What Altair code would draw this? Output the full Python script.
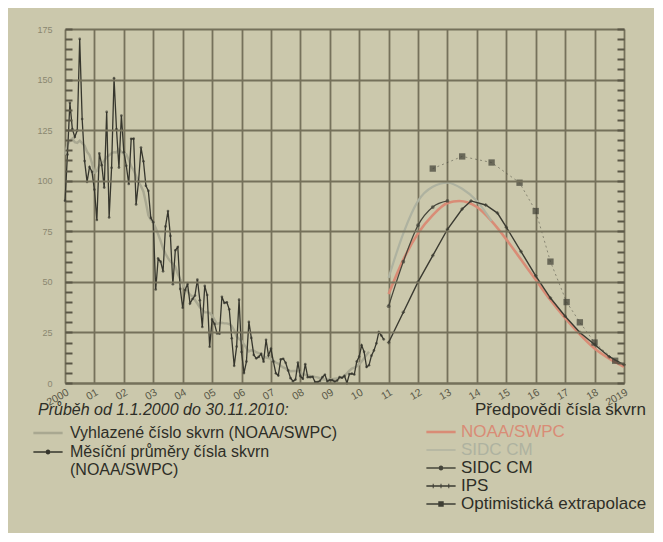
import altair as alt
import pandas as pd

# ---------------- data ----------------
monthly = [
    90.1, 112.9, 138.5, 125.5, 121.6, 124.9, 170.1, 130.5, 109.7, 99.4, 106.8, 104.4,
    95.6, 80.6, 113.5, 107.7, 96.6, 134.0, 81.8, 106.4, 150.7, 125.5, 106.5, 132.2,
    114.1, 107.4, 98.4, 120.7, 120.8, 88.3, 99.6, 116.4, 109.6, 97.5, 95.0, 81.6,
    79.5, 46.2, 61.5, 60.0, 55.2, 77.4, 85.0, 72.7, 48.8, 65.6, 67.2, 46.5,
    37.2, 46.0, 48.9, 39.3, 41.5, 43.2, 51.1, 40.9, 27.7, 48.0, 43.5, 17.9,
    31.3, 29.2, 24.5, 24.4, 42.6, 39.6, 39.9, 36.4, 22.1, 8.5, 18.0, 41.2,
    15.3, 4.9, 10.6, 30.2, 22.3, 13.9, 12.2, 12.9, 14.4, 10.5, 21.4, 13.6,
    16.9, 10.6, 4.8, 3.7, 11.7, 12.0, 10.0, 6.2, 2.4, 0.9, 1.7, 10.1,
    3.4, 2.1, 9.3, 2.9, 2.9, 3.1, 0.5, 0.5, 1.1, 2.9, 4.1, 0.8,
    1.5, 1.4, 0.7, 1.2, 2.9, 2.6, 3.5, 0.0, 4.4, 4.6, 4.2, 10.6,
    13.1, 18.6, 15.4, 7.9, 8.8, 13.5, 16.1, 19.6, 25.2, 23.5, 21.6,
]
smoothed = [
    112.9, 117.9, 119.8, 120.8, 119.0, 118.7, 119.8, 118.6, 117.3, 114.3, 112.7, 108.7,
    104.0, 104.8, 107.5, 108.6, 109.8, 111.7, 112.6, 113.6, 114.1, 114.0, 115.6, 114.2,
    113.3, 113.1, 110.4, 107.1, 105.1, 102.4, 99.2, 97.3, 94.6, 89.1, 82.9, 80.8,
    79.2, 76.6, 73.5, 70.2, 66.6, 63.9, 61.7, 60.1, 58.9, 57.4, 53.9, 51.3,
    49.1, 46.8, 45.1, 43.6, 42.7, 41.0, 39.3, 37.4, 36.4, 34.9, 34.9, 34.7,
    33.4, 31.2, 29.2, 29.6, 29.8, 29.5, 29.5, 29.1, 28.1, 26.1, 23.0, 21.8,
    20.9, 19.1, 17.3, 15.6, 16.2, 16.0, 15.2, 14.8, 14.1, 13.2, 12.6, 12.3,
    11.9, 11.0, 10.1, 9.6, 8.6, 7.7, 7.2, 6.5, 5.8, 5.9, 6.0, 5.9,
    5.1, 4.4, 4.1, 3.9, 3.5, 3.3, 3.0, 2.8, 2.4, 1.8, 1.7, 1.7,
    1.8, 1.9, 2.1, 2.2, 2.3, 2.7, 3.6, 4.8, 6.1, 7.1, 7.6, 8.3,
    9.3, 10.6, 12.3, 14.0, 15.5,
]

noaa_x = [2011.0, 2011.5, 2012.0, 2012.5, 2013.0, 2013.4, 2014.0, 2014.5, 2015.0, 2015.5,
          2016.0, 2016.5, 2017.0, 2017.5, 2018.0, 2018.5, 2019.0]
noaa_y = [44, 61, 74, 83, 89, 90, 87, 80, 71, 61, 51, 41, 32, 24, 17, 12, 8]

sidc_l_x = [2011.0, 2011.5, 2012.0, 2012.5, 2013.0, 2013.5, 2014.0, 2014.5]
sidc_l_y = [52, 74, 90, 97, 99, 96, 90, 80]

sidc_d_x = [2011.0, 2011.5, 2012.0, 2012.5, 2013.0]
sidc_d_y = [38, 60, 78, 87, 90]

ips_x = [2011.0, 2011.5, 2012.0, 2012.5, 2013.0, 2013.5, 2013.8, 2014.3, 2014.7, 2015.0,
         2015.5, 2016.0, 2016.5, 2017.0, 2017.5, 2018.0, 2018.5, 2019.0]
ips_y = [20, 35, 50, 63, 76, 86, 90, 88, 84, 77, 65, 53, 42, 33, 25, 19, 13, 9]

opt_x = [2012.5, 2013.5, 2014.5, 2015.45, 2016.0, 2016.5, 2017.05, 2017.5, 2018.0, 2018.7]
opt_y = [106, 112, 109, 99, 85, 60, 40, 30, 20, 11]

x_labels = ["2000", "01", "02", "03", "04", "05", "06", "07", "08", "09", "10",
            "11", "12", "13", "14", "15", "16", "17", "18", "2019"]
y_ticks = [0, 25, 50, 75, 100, 125, 150, 175]
y_minor = list(range(0, 176, 5))

hist_names = ["Vyhlazené číslo skvrn (NOAA/SWPC)", "Měsíční průměry čísla skvrn|(NOAA/SWPC)"]
pred_names = ["NOAA/SWPC", "SIDC CM", "SIDC CM ", "IPS", "Optimistická extrapolace"]

# ---------------- styling ----------------
BG = "#cbc8ac"
GRID = "#75715b"
DARK = "#2e2e27"
C_SMOOTH = "#a9a891"
C_MONTH = "#36362d"
C_NOAA = "#d98c76"
C_SIDC_L = "#aeb2a0"
C_SIDC_D = "#45453a"
C_IPS = "#3a3a31"
C_OPT = "#3e3e34"
FONT = "Liberation Sans"

rows = []
for i, v in enumerate(monthly):
    rows.append({"x": 2000 + i / 12, "y": v, "s": "month"})
for i, v in enumerate(smoothed):
    rows.append({"x": 2000 + i / 12, "y": v, "s": "smooth"})
for xx, yy in zip(noaa_x, noaa_y):
    rows.append({"x": xx, "y": yy, "s": "noaa"})
for xx, yy in zip(sidc_l_x, sidc_l_y):
    rows.append({"x": xx, "y": yy, "s": "sidc_l"})
for xx, yy in zip(sidc_d_x, sidc_d_y):
    rows.append({"x": xx, "y": yy, "s": "sidc_d"})
for xx, yy in zip(ips_x, ips_y):
    rows.append({"x": xx, "y": yy, "s": "ips"})
for xx, yy in zip(opt_x, opt_y):
    rows.append({"x": xx, "y": yy, "s": "opt"})
df = pd.DataFrame(rows)

xscale = alt.Scale(domain=[2000, 2019], nice=False, zero=False)
yscale = alt.Scale(domain=[0, 175], nice=False)

label_arr = "[" + ",".join("'" + l + "'" for l in x_labels) + "]"
major_test = "indexof(" + str(y_ticks) + ", datum.value) >= 0"
x_axis = alt.Axis(values=list(range(2000, 2020)), labelExpr=label_arr + "[round(datum.value) - 2000]",
                  grid=True, gridColor=GRID, gridWidth=1.8, title=None, labelAngle=-30,
                  labelAlign="right", labelBaseline="top", labelFontSize=10.5, labelColor="#5a5848",
                  labelFont=FONT, labelPadding=4, ticks=False, domainColor=GRID, domainWidth=1.8)
y_axis = alt.Axis(values=y_minor,
                  labelExpr="indexof(" + str(y_ticks) + ", datum.value) >= 0 ? datum.label : ''",
                  grid=True, gridWidth=1.8,
                  gridColor={"condition": {"test": major_test, "value": GRID}, "value": "transparent"},
                  title=None, labelFontSize=9, labelColor="#8a8770", labelFont=FONT, labelPadding=13,
                  ticks=True, tickSize=7, tickColor="#5a5746", tickWidth=2, offset=-7, domain=False,
                  zindex=2)
y_axis_right = alt.Axis(orient="right", values=y_minor, labels=False, grid=False, domain=False,
                        ticks=True, tickSize=7, offset=-7, tickColor="#5a5746", tickWidth=2, title=None,
                        zindex=2)

base = alt.Chart(df)


def series(key):
    return base.transform_filter(alt.datum.s == key)


X = alt.X("x:Q", scale=xscale, axis=x_axis)
Y = alt.Y("y:Q", scale=yscale, axis=None)

smooth = series("smooth").mark_line(color=C_SMOOTH, strokeWidth=2.4).encode(
    x=X, y=alt.Y("y:Q", scale=yscale, axis=y_axis))
month = series("month").mark_line(color=C_MONTH, strokeWidth=1.3).encode(x=X, y=Y)
month_pts = series("month").mark_point(color=C_MONTH, filled=True, size=7).encode(x=X, y=Y)
noaa = series("noaa").mark_line(color=C_NOAA, strokeWidth=2.6, interpolate="monotone").encode(x=X, y=Y)
sidc_l = series("sidc_l").mark_line(color=C_SIDC_L, strokeWidth=2.2, interpolate="monotone").encode(x=X, y=Y)
sidc_d = series("sidc_d").mark_line(color=C_SIDC_D, strokeWidth=1.3, interpolate="monotone").encode(x=X, y=Y)
sidc_d_pts = series("sidc_d").mark_point(color=C_SIDC_D, filled=True, size=14).encode(x=X, y=Y)
ips = series("ips").mark_line(color=C_IPS, strokeWidth=1.4).encode(x=X, y=Y)
ips_pts = series("ips").mark_point(color=C_IPS, shape="cross", filled=True, size=12).encode(x=X, y=Y)
opt = series("opt").mark_line(color=C_OPT, strokeWidth=0.8, strokeDash=[2, 3], opacity=0.6).encode(x=X, y=Y)
opt_pts = series("opt").mark_point(color=C_OPT, shape="square", filled=True, size=40).encode(x=X, y=Y)

# legend symbol paths
THICK = "M-1.5,-0.13H1.5V0.13H-1.5Z"
THIN = "M-1.5,-0.07H1.5V0.07H-1.5Z"
DOT = ("M-1.5,-0.07H-0.25V0.07H-1.5Z M0.25,-0.07H1.5V0.07H0.25Z "
       "M0.25,0A0.25,0.25,0,1,1,-0.25,0A0.25,0.25,0,1,1,0.25,0Z")
SQUARE = ("M-1.5,-0.07H-0.28V0.07H-1.5Z M0.28,-0.07H1.5V0.07H0.28Z "
          "M-0.28,-0.28H0.28V0.28H-0.28Z")
PLUS = ("M-1.5,-0.07H1.5V0.07H-1.5Z M-0.85,-0.22H-0.75V0.22H-0.85Z "
        "M-0.05,-0.22H0.05V0.22H-0.05Z M0.75,-0.22H0.85V0.22H0.75Z")

hist_df = pd.DataFrame({"name": hist_names, "x": [2000.0] * 2, "y": [0.0] * 2})
pred_df = pd.DataFrame({"name": pred_names, "x": [2000.0] * 5, "y": [0.0] * 5})

leg_common = dict(orient="none", padding=0, symbolSize=380, symbolStrokeWidth=0, symbolOpacity=1,
                  labelFont=FONT, titleFont=FONT,
                  titleFontWeight="normal", titleColor=DARK, titleLimit=400, labelLimit=400)

hist_legend = alt.Legend(title="Průběh od 1.1.2000 do 30.11.2010:", legendX=-27, legendY=373,
                         titleFontStyle="italic", labelColor=DARK, rowPadding=1,
                         labelFontSize=16, titleFontSize=16,
                         labelOffset=12, titlePadding=5,
                         labelExpr="split(datum.label, '|')", **leg_common)
hist_leg = alt.Chart(hist_df).mark_point(opacity=0, filled=True).encode(
    x=X, y=Y,
    color=alt.Color("name:N", scale=alt.Scale(domain=hist_names, range=[C_SMOOTH, C_MONTH]),
                    legend=hist_legend),
    shape=alt.Shape("name:N", scale=alt.Scale(domain=hist_names, range=[THICK, DOT]),
                    legend=hist_legend),
)

pred_label_color = ("datum.value == 'NOAA/SWPC' ? '" + C_NOAA + "' : datum.value == 'SIDC CM' ? '"
                    + C_SIDC_L + "' : '" + DARK + "'")
pred_legend = alt.Legend(title="Předpovědi čísla skvrn", legendX=366, legendY=373, titleAnchor="end",
                         labelColor={"expr": pred_label_color}, rowPadding=0, labelOffset=10,
                         labelFontSize=17, titleFontSize=17,
                         titlePadding=3, **leg_common)
pred_leg = alt.Chart(pred_df).mark_point(opacity=0, filled=True).encode(
    x=X,
    y=alt.Y("y:Q", scale=yscale, axis=y_axis_right),
    color=alt.Color("name:N", scale=alt.Scale(domain=pred_names,
                                              range=[C_NOAA, C_SIDC_L, C_SIDC_D, C_IPS, C_OPT]),
                    legend=pred_legend),
    shape=alt.Shape("name:N", scale=alt.Scale(domain=pred_names, range=[THICK, THIN, DOT, PLUS, SQUARE]),
                    legend=pred_legend),
)

chart = alt.layer(
    smooth, month, month_pts, noaa, sidc_l, sidc_d, sidc_d_pts, ips, ips_pts, opt, opt_pts,
    hist_leg, pred_leg,
).resolve_scale(color="independent", shape="independent").resolve_axis(y="independent").properties(
    width=559, height=354,
    autosize=alt.AutoSizeParams(type="none"),
    padding={"left": 57, "top": 21, "right": 30, "bottom": 150},
    background=BG,
).configure_view(stroke=GRID, strokeWidth=1.8).configure(font=FONT)

chart.save("out.html", embed_options={"renderer": "svg", "actions": False})
